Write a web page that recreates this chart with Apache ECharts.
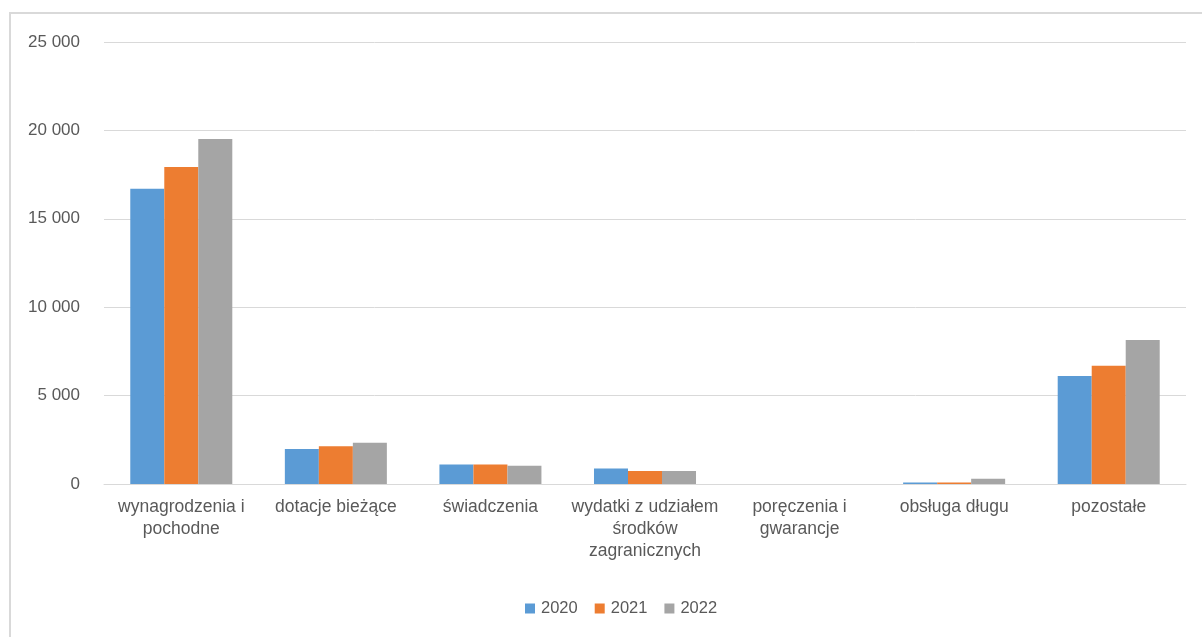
<!DOCTYPE html>
<html>
<head>
<meta charset="utf-8">
<script src="https://cdn.jsdelivr.net/npm/echarts@6/dist/echarts.min.js"></script>
<style>
  html, body { margin: 0; padding: 0; background: #fff; }
  #chart { width: 1202px; height: 637px; }
</style>
</head>
<body>
<div id="chart"></div>
<script>
const categories = [
  'wynagrodzenia i\npochodne',
  'dotacje bieżące',
  'świadczenia',
  'wydatki z udziałem\nśrodków\nzagranicznych',
  'poręczenia i\ngwarancje',
  'obsługa długu',
  'pozostałe'
];
const years = ['2020', '2021', '2022'];
const values2020 = [16700, 1980, 1110, 880, 0, 90, 6110];
const values2021 = [17930, 2130, 1110, 735, 0, 90, 6690];
const values2022 = [19510, 2340, 1035, 735, 0, 300, 8150];
const colors = ['#5B9BD5', '#ED7D31', '#A5A5A5'];

const chart = echarts.init(document.getElementById('chart'));

const fmt = (v) => String(v).replace(/\B(?=(\d{3})+(?!\d))/g, ' ');

const makeSeries = (name, data, i) => ({
  name: name,
  type: 'bar',
  data: data,
  barGap: '0%',
  barCategoryGap: '34%',
  itemStyle: { color: colors[i] }
});

const option = {
  animation: false,
  textStyle: { fontFamily: 'Liberation Sans, Arial, sans-serif' },
  graphic: [
    {
      type: 'rect',
      shape: { x: 10, y: 13, width: 1210, height: 640 },
      style: { fill: 'none', stroke: '#d9d9d9', lineWidth: 2 },
      silent: true
    }
  ],
  grid: { left: 104, right: 16, top: 42, bottom: 153 },
  legend: {
    data: years,
    top: 595,
    left: 520,
    itemWidth: 10,
    itemHeight: 10,
    itemGap: 17,
    icon: 'rect',
    textStyle: { fontSize: 16.5, color: '#595959', padding: [0, 0, 0, 1] }
  },
  xAxis: {
    type: 'category',
    data: categories,
    axisTick: { show: false },
    axisLine: { lineStyle: { color: '#d9d9d9', width: 1 } },
    axisLabel: {
      interval: 0,
      fontSize: 17.5,
      color: '#595959',
      lineHeight: 22,
      margin: 12
    }
  },
  yAxis: {
    type: 'value',
    min: 0,
    max: 25000,
    interval: 5000,
    axisLine: { show: false },
    axisTick: { show: false },
    splitLine: { lineStyle: { color: '#d9d9d9', width: 1 } },
    axisLabel: {
      fontSize: 17,
      color: '#595959',
      margin: 24,
      formatter: fmt
    }
  },
  series: [
    makeSeries(years[0], values2020, 0),
    makeSeries(years[1], values2021, 1),
    makeSeries(years[2], values2022, 2)
  ]
};

chart.setOption(option);
</script>
</body>
</html>
